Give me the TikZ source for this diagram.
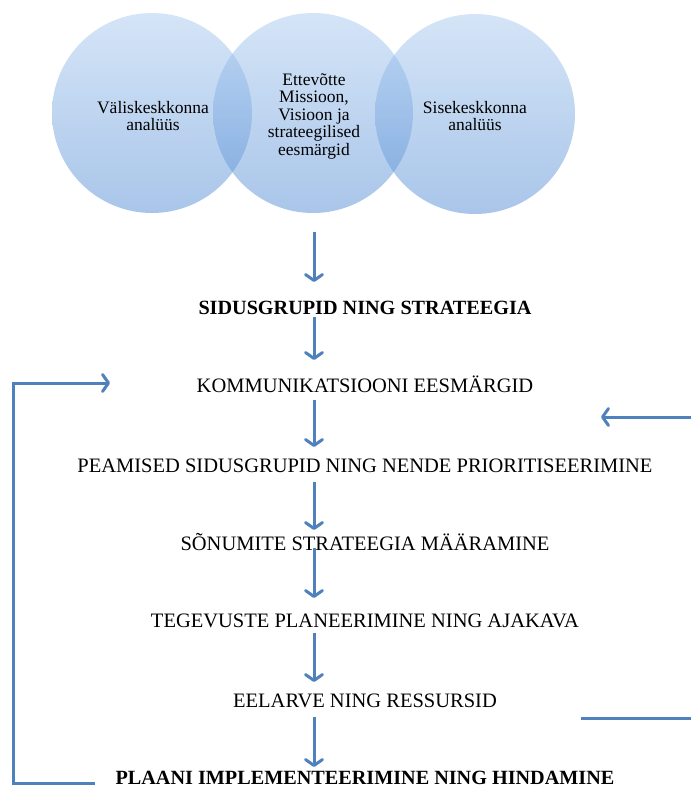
\documentclass[tikz,border=0pt]{standalone}
\usepackage{fontspec}
\setmainfont{Liberation Serif}
\usetikzlibrary{arrows.meta,calc}
\definecolor{flowblue}{RGB}{79,129,189}
\definecolor{ringtop}{RGB}{171,203,240}
\definecolor{ringbot}{RGB}{83,140,212}

\begin{document}
\begin{tikzpicture}[x=1pt,y=-1pt,
  ring/.style={circle, minimum size=200pt, inner sep=0pt,
    top color=ringtop, bottom color=ringbot, fill opacity=0.5},
  ringtext/.style={align=center, inner sep=0pt, font=\fontsize{17.5}{17.5}\selectfont},
  stage/.style={anchor=base, inner sep=0pt, font=\fontsize{20.5}{24}\selectfont},
  keystage/.style={stage, font=\fontsize{20.2}{24}\selectfont\bfseries},
  flow/.style={draw=flowblue, line width=3pt,
    -{Straight Barb[length=6pt,width=17pt,round]}},
  loopline/.style={draw=flowblue, line width=3pt}]

\useasboundingbox (0,0) rectangle (691,789);

% three overlapping analysis circles
\node[ring] (c1) at (152,113) {};
\node[ring] (c2) at (313,113) {};
\node[ring] (c3) at (475,114) {};
\node[ringtext] (l1) at ($(c1)+(1,3)$) {Väliskeskkonna\\analüüs};
\node[ringtext] (l2) at ($(c2)+(1,3)$) {Ettevõtte\\Missioon,\\Visioon ja\\strateegilised\\eesmärgid};
\node[ringtext] (l3) at ($(c3)+(0,2)$) {Sisekeskkonna\\analüüs};

% planning stages
\coordinate (ax) at (314,0);
\node[keystage] (t1) at (365,314) {SIDUSGRUPID NING STRATEEGIA};
\node[stage] (t2) at (365,392) {KOMMUNIKATSIOONI EESMÄRGID};
\node[stage] (t3) at (365,472) {PEAMISED SIDUSGRUPID NING NENDE PRIORITISEERIMINE};
\node[stage] (t4) at (365,550) {SÕNUMITE STRATEEGIA MÄÄRAMINE};
\node[stage] (t5) at (365,627) {TEGEVUSTE PLANEERIMINE NING AJAKAVA};
\node[stage] (t6) at (365,707) {EELARVE NING RESSURSID};
\node[keystage] (t7) at (365,784) {PLAANI IMPLEMENTEERIMINE NING HINDAMINE};

% downward flow
\draw[flow] ($(c2.south -| ax)+(0,19)$) -- ($(t1.base -| ax)+(0,-32)$);
\draw[flow] ($(t1.base -| ax)+(0,3)$) -- ($(t2.base -| ax)+(0,-32)$);
\draw[flow] ($(t2.base -| ax)+(0,8)$) -- ($(t3.base -| ax)+(0,-25)$);
\draw[flow] ($(t3.base -| ax)+(0,10)$) -- ($(t4.base -| ax)+(0,-20)$);
\draw[flow] ($(t4.base -| ax)+(0,-2)$) -- ($(t5.base -| ax)+(0,-29)$);
\draw[flow] ($(t5.base -| ax)+(0,6)$) -- ($(t6.base -| ax)+(0,-25)$);
\draw[flow] ($(t6.base -| ax)+(0,10)$) -- ($(t7.base -| ax)+(0,-17)$);

% feedback loop on the left
\coordinate (lx) at (13,0);
\draw[flow] ($(t7.base)+(-270,-1)$) -- ($(t7.base -| lx)+(0,-1)$)
  -- ($(t2.base -| lx)+(0,-9)$) -- ($(t2.base)+(-255,-9)$);

% lines entering from the right
\coordinate (rin) at (691,417);
\coordinate (rout) at (691,718);
\draw[flow] (rin) -- ($(t3.base)+(236,-55)$);
\draw[loopline] ($(t6.base)+(216,11)$) -- (rout);
\end{tikzpicture}
\end{document}
